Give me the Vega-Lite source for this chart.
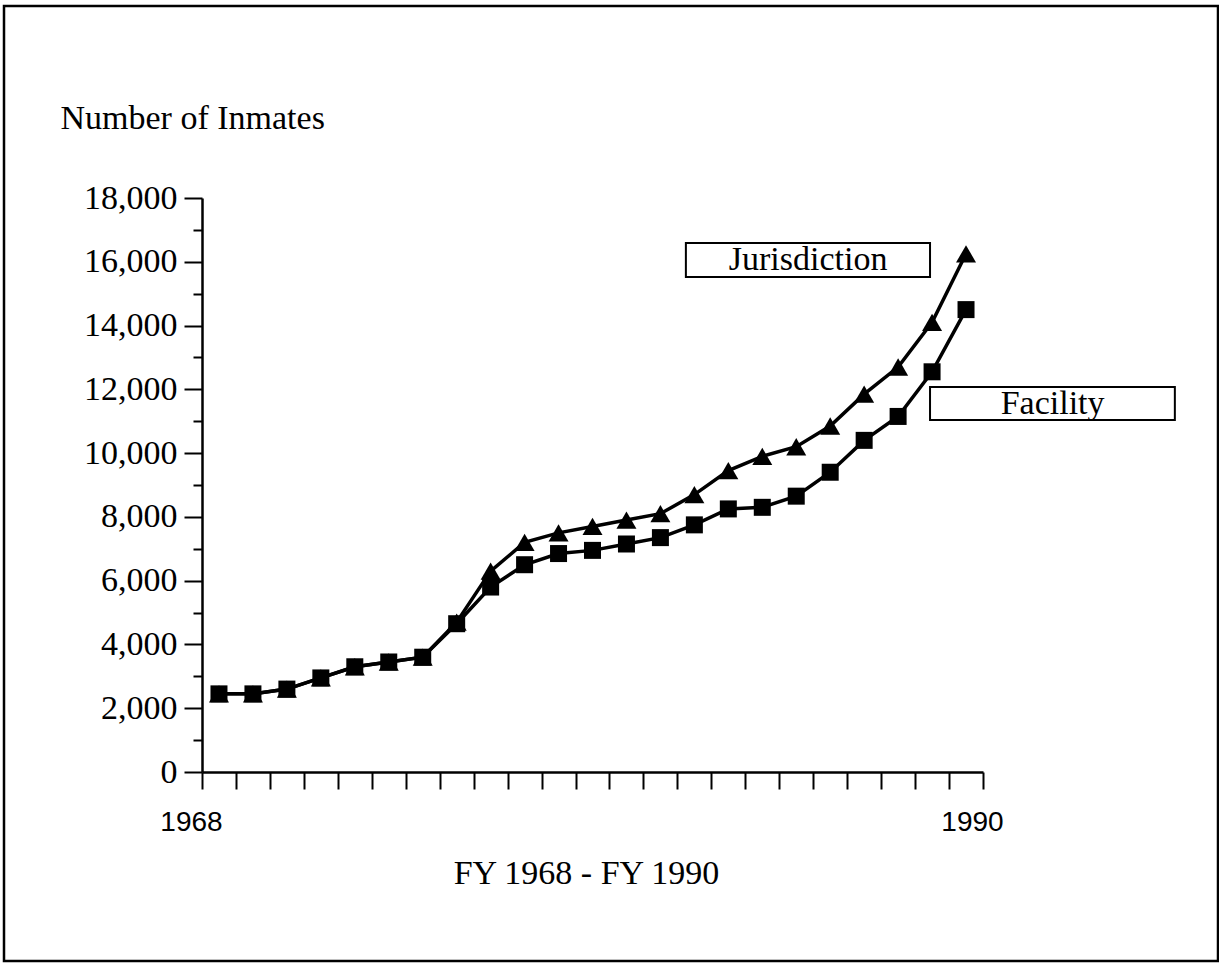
{
  "$schema": "https://vega.github.io/schema/vega-lite/v6.json",
  "width": 1214,
  "height": 955,
  "autosize": {"type": "none"},
  "padding": {"left": 4, "top": 6, "right": 1, "bottom": 2},
  "background": "white",
  "config": {
    "view": {"stroke": "black", "strokeWidth": 2.5},
    "axis": {"grid": false, "domainColor": "black", "tickColor": "black", "labelColor": "black", "titleColor": "black", "labelFont": "Liberation Serif", "titleFont": "Liberation Serif", "titleFontWeight": "normal"}
  },
  "datasets": {
    "inmates": [
      {"year": 1968, "series": "Jurisdiction", "value": 2450},
      {"year": 1969, "series": "Jurisdiction", "value": 2450},
      {"year": 1970, "series": "Jurisdiction", "value": 2600},
      {"year": 1971, "series": "Jurisdiction", "value": 2950},
      {"year": 1972, "series": "Jurisdiction", "value": 3300},
      {"year": 1973, "series": "Jurisdiction", "value": 3450},
      {"year": 1974, "series": "Jurisdiction", "value": 3600},
      {"year": 1975, "series": "Jurisdiction", "value": 4700},
      {"year": 1976, "series": "Jurisdiction", "value": 6300},
      {"year": 1977, "series": "Jurisdiction", "value": 7200},
      {"year": 1978, "series": "Jurisdiction", "value": 7500},
      {"year": 1979, "series": "Jurisdiction", "value": 7700},
      {"year": 1980, "series": "Jurisdiction", "value": 7900},
      {"year": 1981, "series": "Jurisdiction", "value": 8100},
      {"year": 1982, "series": "Jurisdiction", "value": 8700},
      {"year": 1983, "series": "Jurisdiction", "value": 9450},
      {"year": 1984, "series": "Jurisdiction", "value": 9900},
      {"year": 1985, "series": "Jurisdiction", "value": 10200},
      {"year": 1986, "series": "Jurisdiction", "value": 10850},
      {"year": 1987, "series": "Jurisdiction", "value": 11850},
      {"year": 1988, "series": "Jurisdiction", "value": 12700},
      {"year": 1989, "series": "Jurisdiction", "value": 14100},
      {"year": 1990, "series": "Jurisdiction", "value": 16250},
      {"year": 1968, "series": "Facility", "value": 2450},
      {"year": 1969, "series": "Facility", "value": 2450},
      {"year": 1970, "series": "Facility", "value": 2600},
      {"year": 1971, "series": "Facility", "value": 2950},
      {"year": 1972, "series": "Facility", "value": 3300},
      {"year": 1973, "series": "Facility", "value": 3450},
      {"year": 1974, "series": "Facility", "value": 3600},
      {"year": 1975, "series": "Facility", "value": 4650},
      {"year": 1976, "series": "Facility", "value": 5800},
      {"year": 1977, "series": "Facility", "value": 6500},
      {"year": 1978, "series": "Facility", "value": 6850},
      {"year": 1979, "series": "Facility", "value": 6950},
      {"year": 1980, "series": "Facility", "value": 7150},
      {"year": 1981, "series": "Facility", "value": 7350},
      {"year": 1982, "series": "Facility", "value": 7750},
      {"year": 1983, "series": "Facility", "value": 8250},
      {"year": 1984, "series": "Facility", "value": 8300},
      {"year": 1985, "series": "Facility", "value": 8650},
      {"year": 1986, "series": "Facility", "value": 9400},
      {"year": 1987, "series": "Facility", "value": 10400},
      {"year": 1988, "series": "Facility", "value": 11150},
      {"year": 1989, "series": "Facility", "value": 12550},
      {"year": 1990, "series": "Facility", "value": 14500}
    ],
    "notes": [
      {"label": "Jurisdiction", "x1": 1981.75, "x2": 1988.94, "y1": 16588, "y2": 15522, "xc": 1985.35, "yc": 16055},
      {"label": "Facility", "x1": 1988.94, "x2": 1996.15, "y1": 12073, "y2": 11038, "xc": 1992.55, "yc": 11555}
    ]
  },
  "layer": [
    {
      "data": {"name": "inmates"},
      "mark": {"type": "line", "color": "black", "strokeWidth": 3.5},
      "encoding": {
        "x": {
          "field": "year", "type": "quantitative",
          "scale": {"domain": [1967.5, 1990.5], "range": [198, 979], "nice": false, "zero": false},
          "axis": {
            "orient": "bottom", "offset": -189,
            "values": [1967.5, 1968.5, 1969.5, 1970.5, 1971.5, 1972.5, 1973.5, 1974.5, 1975.5, 1976.5, 1977.5, 1978.5, 1979.5, 1980.5, 1981.5, 1982.5, 1983.5, 1984.5, 1985.5, 1986.5, 1987.5, 1988.5, 1989.5, 1990.5],
            "tickSize": 17, "tickWidth": 2, "domainWidth": 2.5,
            "labelExpr": "datum.value == 1967.5 ? '1968' : (datum.value == 1990.5 ? '1990' : '')",
            "labelFont": "Liberation Sans", "labelFontSize": 28, "labelOffset": -11, "labelPadding": 33,
            "labelBaseline": "middle", "labelAngle": 0, "labelOverlap": false, "labelFlush": false, "labelBound": false,
            "title": "FY 1968 - FY 1990", "titleFontSize": 34, "titleX": 582, "titleY": 111,
            "titleBaseline": "alphabetic", "titleAlign": "center", "titleAnchor": "start"
          }
        },
        "y": {
          "field": "value", "type": "quantitative",
          "scale": {"domain": [0, 18000], "range": [766, 192], "nice": false},
          "axis": {
            "orient": "left", "offset": -198,
            "values": [0, 500, 1000, 1500, 2000, 2500, 3000, 3500, 4000, 4500, 5000, 5500, 6000, 6500, 7000, 7500, 8000, 8500, 9000, 9500, 10000, 10500, 11000, 11500, 12000, 12500, 13000, 13500, 14000, 14500, 15000, 15500, 16000, 16500, 17000, 17500, 18000],
            "tickSize": {"condition": {"test": "datum.value % 2000 === 0", "value": 18}, "value": 9},
            "tickWidth": 2, "domainWidth": 2.5,
            "labelExpr": "datum.value % 2000 === 0 ? format(datum.value, ',') : ''",
            "labelFontSize": 34, "labelPadding": 7, "labelOverlap": false, "labelBound": false, "labelFlush": false,
            "title": "Number of Inmates", "titleFontSize": 34, "titleAngle": 0, "titleAlign": "left",
            "titleBaseline": "alphabetic", "titleX": -142, "titleY": 122, "titleAnchor": "start"
          }
        },
        "detail": {"field": "series"}
      }
    },
    {
      "data": {"name": "inmates"},
      "mark": {"type": "point", "filled": true, "color": "black", "opacity": 1},
      "encoding": {
        "x": {"field": "year", "type": "quantitative"},
        "y": {"field": "value", "type": "quantitative"},
        "shape": {"field": "series", "type": "nominal", "scale": {"domain": ["Jurisdiction", "Facility"], "range": ["triangle-up", "square"]}, "legend": null},
        "size": {"field": "series", "type": "nominal", "scale": {"domain": ["Jurisdiction", "Facility"], "range": [400, 289]}, "legend": null}
      }
    },
    {
      "data": {"name": "notes"},
      "mark": {"type": "rect", "fill": "white", "stroke": "black", "strokeWidth": 2},
      "encoding": {
        "x": {"field": "x1", "type": "quantitative"},
        "x2": {"field": "x2"},
        "y": {"field": "y1", "type": "quantitative"},
        "y2": {"field": "y2"}
      }
    },
    {
      "data": {"name": "notes"},
      "mark": {"type": "text", "font": "Liberation Serif", "fontSize": 34, "baseline": "middle", "align": "center", "color": "black"},
      "encoding": {
        "x": {"field": "xc", "type": "quantitative"},
        "y": {"field": "yc", "type": "quantitative"},
        "text": {"field": "label"}
      }
    }
  ]
}
